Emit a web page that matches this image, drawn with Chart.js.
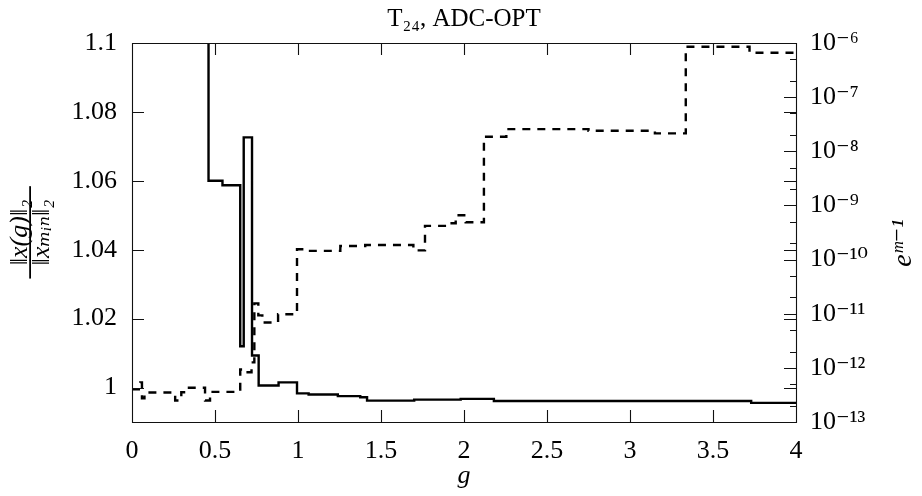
<!DOCTYPE html>
<html>
<head>
<meta charset="utf-8">
<script src="https://cdn.jsdelivr.net/npm/chart.js@4.4.1/dist/chart.umd.min.js"></script>
<style>
    html, body { margin: 0; padding: 0; background: #fff; }
    #wrap { width: 922px; height: 496px; }
</style>
</head>
<body>
<div id="wrap"><canvas id="chart" width="922" height="496"></canvas></div>
<script>
(function () {
    "use strict";

    // ||x(g)||_2 / ||x_min||_2 (left axis), value holds from each g onwards
    const ratioG = [0, 0.461, 0.545, 0.652, 0.673, 0.723, 0.763, 0.883, 0.994, 1.064, 1.24, 1.375, 1.416, 1.70, 1.98, 2.18, 3.73, 4.0];
    const ratioValues = [1.2, 1.06, 1.0587, 1.012, 1.0726, 1.0093, 1.0006, 1.0015, 0.9983, 0.998, 0.9975, 0.9972, 0.9962, 0.9965, 0.9967, 0.9961, 0.99555, 0.99555];

    // e^{m-1} (right axis, log)
    const errG = [0, 0.05, 0.06, 0.075, 0.26, 0.297, 0.333, 0.44, 0.47, 0.652, 0.677, 0.72, 0.737, 0.761, 0.785, 0.88, 0.994, 1.06, 1.255, 1.405, 1.695, 1.765, 1.90, 1.95, 2.01, 2.12, 2.255, 2.75, 3.15, 3.336, 3.72, 4.0];
    const errValues = [4.0e-13, 5.4e-13, 2.75e-13, 3.5e-13, 2.5e-13, 3.55e-13, 4.3e-13, 2.5e-13, 3.6e-13, 9.3e-13, 8.3e-13, 1.26e-12, 1.55e-11, 9.3e-12, 6.9e-12, 9.8e-12, 1.55e-10, 1.45e-10, 1.78e-10, 1.86e-10, 1.48e-10, 4.2e-10, 4.7e-10, 6.6e-10, 4.9e-10, 1.86e-8, 2.57e-8, 2.4e-8, 2.14e-8, 8.5e-7, 6.6e-7, 6.6e-7];

    const xTicks = [0, 0.5, 1, 1.5, 2, 2.5, 3, 3.5, 4];
    const xTickLabels = ["0", "0.5", "1", "1.5", "2", "2.5", "3", "3.5", "4"];
    const yTicks = [1, 1.02, 1.04, 1.06, 1.08, 1.1];
    const yTickLabels = ["1", "1.02", "1.04", "1.06", "1.08", "1.1"];
    const errDecades = [1e-13, 1e-12, 1e-11, 1e-10, 1e-9, 1e-8, 1e-7, 1e-6];
    const errTickLabels = ["10⁻¹³", "10⁻¹²", "10⁻¹¹", "10⁻¹⁰", "10⁻⁹", "10⁻⁸", "10⁻⁷", "10⁻⁶"];

    const serif = "'Liberation Serif', 'DejaVu Serif', serif";
    const tickFont = { family: serif, size: 26 };

    const toPoints = (xs, ys) => xs.map((x, i) => ({ x: x, y: ys[i] }));

    // pgfplots-like frame with inward ticks
    const frameTicks = {
        id: "frameTicks",
        afterDraw(chart) {
            const { ctx, chartArea: a, scales } = chart;
            const px = (v) => Math.round(v) + 0.5;
            ctx.save();
            ctx.strokeStyle = "#111";
            ctx.lineWidth = 1.1;
            ctx.beginPath();
            scales.x.ticks.forEach((t) => {
                const x = px(scales.x.getPixelForValue(t.value));
                ctx.moveTo(x, a.bottom); ctx.lineTo(x, a.bottom - 12);
                ctx.moveTo(x, a.top); ctx.lineTo(x, a.top + 12);
            });
            scales.y.ticks.forEach((t) => {
                const y = px(scales.y.getPixelForValue(t.value));
                ctx.moveTo(a.left, y); ctx.lineTo(a.left + 12, y);
                ctx.moveTo(a.right, y); ctx.lineTo(a.right - 12, y);
            });
            scales.y2.ticks.forEach((t) => {
                const y = px(scales.y2.getPixelForValue(t.value));
                const len = t.major ? 12 : 6;
                ctx.moveTo(a.right, y); ctx.lineTo(a.right - len, y);
            });
            ctx.rect(px(a.left), px(a.top), Math.round(a.width), Math.round(a.height));
            ctx.stroke();

            // right axis label, reading bottom to top
            ctx.fillStyle = "#000";
            ctx.font = "italic 28px " + serif;
            ctx.textAlign = "center";
            ctx.textBaseline = "middle";
            ctx.translate(904, 243);
            ctx.rotate(-Math.PI / 2);
            ctx.fillText("eᵐ⁻¹", 0, 0);
            ctx.restore();
        },
    };

    const ctx = document.getElementById("chart").getContext("2d");
    Chart.defaults.color = "#000";

    new Chart(ctx, {
        type: "line",
        data: {
            datasets: [
                {
                    data: toPoints(ratioG, ratioValues),
                    yAxisID: "y",
                    borderColor: "#000",
                    borderWidth: 2.4,
                    pointRadius: 0,
                    stepped: true,
                    fill: false,
                },
                {
                    data: toPoints(errG, errValues),
                    yAxisID: "y2",
                    borderColor: "#000",
                    borderWidth: 2.4,
                    borderDash: [8, 7],
                    pointRadius: 0,
                    stepped: true,
                    fill: false,
                },
            ],
        },
        options: {
            responsive: false,
            animation: false,
            devicePixelRatio: 1,
            layout: { padding: 0 },
            plugins: {
                legend: { display: false },
                tooltip: { enabled: false },
                title: {
                    display: true,
                    text: "T₂₄, ADC-OPT",
                    fullSize: false,
                    color: "#000",
                    font: { family: serif, size: 25, weight: "normal", lineHeight: 1.2 },
                    padding: { top: 4, bottom: 9 },
                },
            },
            scales: {
                x: {
                    type: "linear",
                    position: "bottom",
                    min: 0,
                    max: 4,
                    afterBuildTicks: (scale) => {
                        scale.ticks = xTicks.map((v) => ({ value: v }));
                    },
                    afterFit: (scale) => { scale.height = 74; },
                    ticks: {
                        font: tickFont,
                        padding: 14,
                        autoSkip: false,
                        maxRotation: 0,
                        callback: (value, i) => xTickLabels[i],
                    },
                    grid: { display: false, drawTicks: false },
                    border: { display: false },
                    title: {
                        display: true,
                        text: "g",
                        font: { family: serif, size: 26, style: "italic", lineHeight: 1.2 },
                        padding: { top: 0, bottom: 4 },
                    },
                },
                y: {
                    type: "linear",
                    position: "left",
                    min: 0.99,
                    max: 1.1,
                    afterBuildTicks: (scale) => {
                        scale.ticks = yTicks.map((v) => ({ value: v }));
                    },
                    afterFit: (scale) => { scale.width = 132; },
                    ticks: {
                        font: tickFont,
                        padding: 15,
                        autoSkip: false,
                        callback: (value, i) => yTickLabels[i],
                    },
                    grid: { display: false, drawTicks: false },
                    border: { display: false },
                    title: {
                        display: true,
                        text: ["‖x(g)‖₂", "─────", "‖xₘᵢₙ‖₂"],
                        font: { family: serif, size: 26, style: "italic", lineHeight: "11px" },
                        padding: { top: 15, bottom: 0 },
                    },
                },
                y2: {
                    type: "logarithmic",
                    position: "right",
                    min: 1e-13,
                    max: 1e-6,
                    afterBuildTicks: (scale) => {
                        const ticks = [];
                        errDecades.forEach((d, i) => {
                            ticks.push({ value: d, major: true });
                            if (i < errDecades.length - 1) {
                                ticks.push({ value: 2 * d, major: false });
                                ticks.push({ value: 5 * d, major: false });
                            }
                        });
                        scale.ticks = ticks;
                    },
                    afterFit: (scale) => { scale.width = 126; },
                    ticks: {
                        font: tickFont,
                        padding: 14,
                        autoSkip: false,
                        callback: (value) => {
                            const i = errDecades.findIndex((d) => Math.abs(value / d - 1) < 1e-6);
                            return i >= 0 ? errTickLabels[i] : "";
                        },
                    },
                    grid: { display: false, drawTicks: false },
                    border: { display: false },
                },
            },
        },
        plugins: [frameTicks],
    });
})();
</script>
</body>
</html>
